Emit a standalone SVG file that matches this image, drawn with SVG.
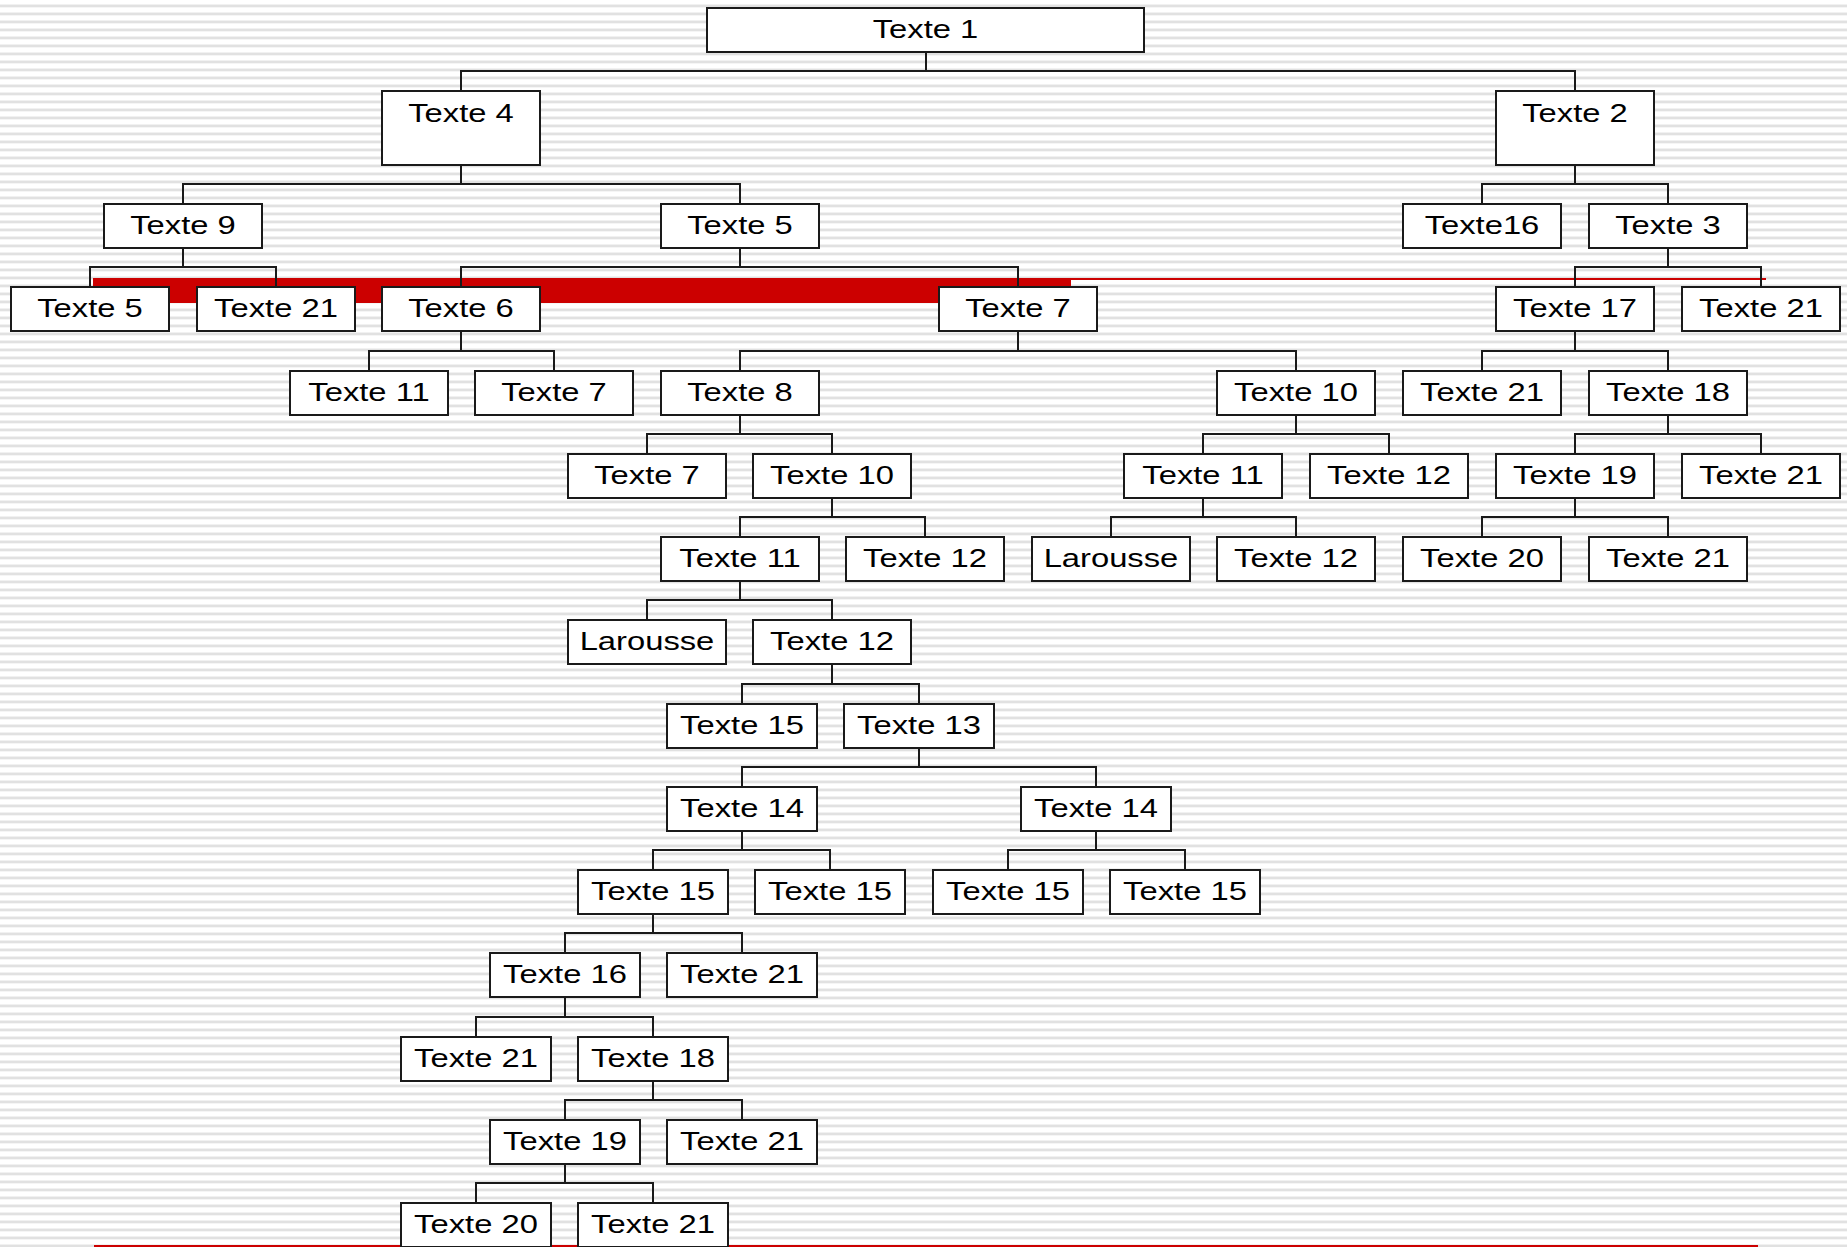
<svg xmlns="http://www.w3.org/2000/svg" width="1847" height="1247" viewBox="0 0 1847 1247">
  <defs>
    <!-- ruled-paper background: thin grey bands every 8px -->
    <pattern id="rules" patternUnits="userSpaceOnUse" x="0" y="0" width="16" height="8">
      <rect x="0" y="0" width="16" height="8" fill="#ffffff"/>
      <rect x="0" y="4" width="16" height="1" fill="#f1f1f1"/>
      <rect x="0" y="5" width="16" height="2" fill="#e1e1e1"/>
      <rect x="0" y="7" width="16" height="1" fill="#f5f5f5"/>
    </pattern>
    <style>
      .box { fill: #ffffff; stroke: #1a1a1a; stroke-width: 2; }
      .wire { fill: none; stroke: #1a1a1a; stroke-width: 2; }
      .lbl { font-family: "Liberation Sans", Arial, sans-serif; font-size: 25px; fill: #000000;
             text-anchor: middle; transform-box: fill-box; transform-origin: center; transform: scaleX(1.31); }
      .accent { fill: #cc0000; }
    </style>
  </defs>

  <!-- background -->
  <rect x="0" y="0" width="1847" height="1247" fill="url(#rules)"/>

  <!-- red highlight strokes -->
  <g id="accents">
    <rect class="accent" x="93" y="278" width="978" height="25"/>
    <rect class="accent" x="1071" y="278" width="695" height="2"/>
    <rect class="accent" x="94" y="1245" width="1664" height="2"/>
  </g>

  <!-- connectors -->
  <g id="connectors">
    <path class="wire" d="M926 52 V71 M461 91 V71 H1575 V91"/>
    <path class="wire" d="M461 165 V184 M183 204 V184 H740 V204"/>
    <path class="wire" d="M1575 165 V184 M1482 204 V184 H1668 V204"/>
    <path class="wire" d="M183 248 V267 M90 287 V267 H276 V287"/>
    <path class="wire" d="M740 248 V267 M461 287 V267 H1018 V287"/>
    <path class="wire" d="M1668 248 V267 M1575 287 V267 H1761 V287"/>
    <path class="wire" d="M461 331 V351 M369 371 V351 H554 V371"/>
    <path class="wire" d="M1018 331 V351 M740 371 V351 H1296 V371"/>
    <path class="wire" d="M1575 331 V351 M1482 371 V351 H1668 V371"/>
    <path class="wire" d="M740 415 V434 M647 454 V434 H832 V454"/>
    <path class="wire" d="M1296 415 V434 M1203 454 V434 H1389 V454"/>
    <path class="wire" d="M1668 415 V434 M1575 454 V434 H1761 V454"/>
    <path class="wire" d="M832 498 V517 M740 537 V517 H925 V537"/>
    <path class="wire" d="M1203 498 V517 M1111 537 V517 H1296 V537"/>
    <path class="wire" d="M1575 498 V517 M1482 537 V517 H1668 V537"/>
    <path class="wire" d="M740 581 V600 M647 620 V600 H832 V620"/>
    <path class="wire" d="M832 664 V684 M742 704 V684 H919 V704"/>
    <path class="wire" d="M919 748 V767 M742 787 V767 H1096 V787"/>
    <path class="wire" d="M742 831 V850 M653 870 V850 H830 V870"/>
    <path class="wire" d="M1096 831 V850 M1008 870 V850 H1185 V870"/>
    <path class="wire" d="M653 914 V933 M565 953 V933 H742 V953"/>
    <path class="wire" d="M565 997 V1017 M476 1037 V1017 H653 V1037"/>
    <path class="wire" d="M653 1081 V1100 M565 1120 V1100 H742 V1120"/>
    <path class="wire" d="M565 1164 V1183 M476 1203 V1183 H653 V1203"/>
  </g>

  <!-- nodes -->
  <g id="n-r0-texte1"><rect class="box" x="707" y="8" width="437" height="44"/><text class="lbl" x="925.5" y="38">Texte 1</text></g>

  <g id="n-r1-texte4"><rect class="box" x="382" y="91" width="158" height="74"/><text class="lbl" x="461" y="122">Texte 4</text></g>
  <g id="n-r1-texte2"><rect class="box" x="1496" y="91" width="158" height="74"/><text class="lbl" x="1575" y="122">Texte 2</text></g>

  <g id="n-r2-texte9"><rect class="box" x="104" y="204" width="158" height="44"/><text class="lbl" x="183" y="234">Texte 9</text></g>
  <g id="n-r2-texte5"><rect class="box" x="661" y="204" width="158" height="44"/><text class="lbl" x="740" y="234">Texte 5</text></g>
  <g id="n-r2-texte16"><rect class="box" x="1403" y="204" width="158" height="44"/><text class="lbl" x="1482" y="234">Texte16</text></g>
  <g id="n-r2-texte3"><rect class="box" x="1589" y="204" width="158" height="44"/><text class="lbl" x="1668" y="234">Texte 3</text></g>

  <g id="n-r3-texte5"><rect class="box" x="11" y="287" width="158" height="44"/><text class="lbl" x="90" y="317">Texte 5</text></g>
  <g id="n-r3-texte21a"><rect class="box" x="197" y="287" width="158" height="44"/><text class="lbl" x="276" y="317">Texte 21</text></g>
  <g id="n-r3-texte6"><rect class="box" x="382" y="287" width="158" height="44"/><text class="lbl" x="461" y="317">Texte 6</text></g>
  <g id="n-r3-texte7"><rect class="box" x="939" y="287" width="158" height="44"/><text class="lbl" x="1018" y="317">Texte 7</text></g>
  <g id="n-r3-texte17"><rect class="box" x="1496" y="287" width="158" height="44"/><text class="lbl" x="1575" y="317">Texte 17</text></g>
  <g id="n-r3-texte21b"><rect class="box" x="1682" y="287" width="158" height="44"/><text class="lbl" x="1761" y="317">Texte 21</text></g>

  <g id="n-r4-texte11"><rect class="box" x="290" y="371" width="158" height="44"/><text class="lbl" x="369" y="401">Texte 11</text></g>
  <g id="n-r4-texte7"><rect class="box" x="475" y="371" width="158" height="44"/><text class="lbl" x="554" y="401">Texte 7</text></g>
  <g id="n-r4-texte8"><rect class="box" x="661" y="371" width="158" height="44"/><text class="lbl" x="740" y="401">Texte 8</text></g>
  <g id="n-r4-texte10"><rect class="box" x="1217" y="371" width="158" height="44"/><text class="lbl" x="1296" y="401">Texte 10</text></g>
  <g id="n-r4-texte21"><rect class="box" x="1403" y="371" width="158" height="44"/><text class="lbl" x="1482" y="401">Texte 21</text></g>
  <g id="n-r4-texte18"><rect class="box" x="1589" y="371" width="158" height="44"/><text class="lbl" x="1668" y="401">Texte 18</text></g>

  <g id="n-r5-texte7"><rect class="box" x="568" y="454" width="158" height="44"/><text class="lbl" x="647" y="484">Texte 7</text></g>
  <g id="n-r5-texte10"><rect class="box" x="753" y="454" width="158" height="44"/><text class="lbl" x="832" y="484">Texte 10</text></g>
  <g id="n-r5-texte11"><rect class="box" x="1124" y="454" width="158" height="44"/><text class="lbl" x="1203" y="484">Texte 11</text></g>
  <g id="n-r5-texte12"><rect class="box" x="1310" y="454" width="158" height="44"/><text class="lbl" x="1389" y="484">Texte 12</text></g>
  <g id="n-r5-texte19"><rect class="box" x="1496" y="454" width="158" height="44"/><text class="lbl" x="1575" y="484">Texte 19</text></g>
  <g id="n-r5-texte21"><rect class="box" x="1682" y="454" width="158" height="44"/><text class="lbl" x="1761" y="484">Texte 21</text></g>

  <g id="n-r6-texte11"><rect class="box" x="661" y="537" width="158" height="44"/><text class="lbl" x="740" y="567">Texte 11</text></g>
  <g id="n-r6-texte12a"><rect class="box" x="846" y="537" width="158" height="44"/><text class="lbl" x="925" y="567">Texte 12</text></g>
  <g id="n-r6-larousse"><rect class="box" x="1032" y="537" width="158" height="44"/><text class="lbl" x="1111" y="567">Larousse</text></g>
  <g id="n-r6-texte12b"><rect class="box" x="1217" y="537" width="158" height="44"/><text class="lbl" x="1296" y="567">Texte 12</text></g>
  <g id="n-r6-texte20"><rect class="box" x="1403" y="537" width="158" height="44"/><text class="lbl" x="1482" y="567">Texte 20</text></g>
  <g id="n-r6-texte21"><rect class="box" x="1589" y="537" width="158" height="44"/><text class="lbl" x="1668" y="567">Texte 21</text></g>

  <g id="n-r7-larousse"><rect class="box" x="568" y="620" width="158" height="44"/><text class="lbl" x="647" y="650">Larousse</text></g>
  <g id="n-r7-texte12"><rect class="box" x="753" y="620" width="158" height="44"/><text class="lbl" x="832" y="650">Texte 12</text></g>

  <g id="n-r8-texte15"><rect class="box" x="667" y="704" width="150" height="44"/><text class="lbl" x="742" y="734">Texte 15</text></g>
  <g id="n-r8-texte13"><rect class="box" x="844" y="704" width="150" height="44"/><text class="lbl" x="919" y="734">Texte 13</text></g>

  <g id="n-r9-texte14a"><rect class="box" x="667" y="787" width="150" height="44"/><text class="lbl" x="742" y="817">Texte 14</text></g>
  <g id="n-r9-texte14b"><rect class="box" x="1021" y="787" width="150" height="44"/><text class="lbl" x="1096" y="817">Texte 14</text></g>

  <g id="n-r10-texte15a"><rect class="box" x="578" y="870" width="150" height="44"/><text class="lbl" x="653" y="900">Texte 15</text></g>
  <g id="n-r10-texte15b"><rect class="box" x="755" y="870" width="150" height="44"/><text class="lbl" x="830" y="900">Texte 15</text></g>
  <g id="n-r10-texte15c"><rect class="box" x="933" y="870" width="150" height="44"/><text class="lbl" x="1008" y="900">Texte 15</text></g>
  <g id="n-r10-texte15d"><rect class="box" x="1110" y="870" width="150" height="44"/><text class="lbl" x="1185" y="900">Texte 15</text></g>

  <g id="n-r11-texte16"><rect class="box" x="490" y="953" width="150" height="44"/><text class="lbl" x="565" y="983">Texte 16</text></g>
  <g id="n-r11-texte21"><rect class="box" x="667" y="953" width="150" height="44"/><text class="lbl" x="742" y="983">Texte 21</text></g>

  <g id="n-r12-texte21"><rect class="box" x="401" y="1037" width="150" height="44"/><text class="lbl" x="476" y="1067">Texte 21</text></g>
  <g id="n-r12-texte18"><rect class="box" x="578" y="1037" width="150" height="44"/><text class="lbl" x="653" y="1067">Texte 18</text></g>

  <g id="n-r13-texte19"><rect class="box" x="490" y="1120" width="150" height="44"/><text class="lbl" x="565" y="1150">Texte 19</text></g>
  <g id="n-r13-texte21"><rect class="box" x="667" y="1120" width="150" height="44"/><text class="lbl" x="742" y="1150">Texte 21</text></g>

  <g id="n-r14-texte20"><rect class="box" x="401" y="1203" width="150" height="44"/><text class="lbl" x="476" y="1233">Texte 20</text></g>
  <g id="n-r14-texte21"><rect class="box" x="578" y="1203" width="150" height="44"/><text class="lbl" x="653" y="1233">Texte 21</text></g>
</svg>
